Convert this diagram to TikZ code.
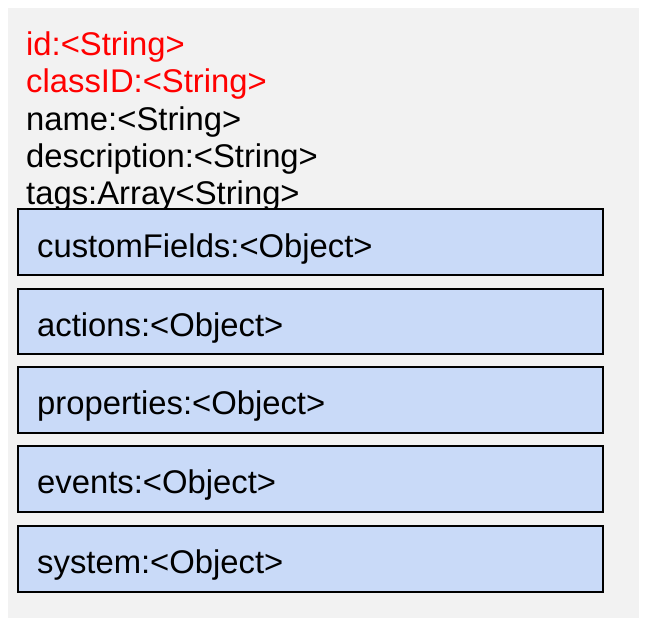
\documentclass[tikz,border=0pt]{standalone}
\usepackage{fontspec}
\setmainfont{Liberation Sans}
\definecolor{panelgray}{HTML}{F2F2F2}
\definecolor{fieldblue}{HTML}{C9DAF8}
\tikzset{
    attr/.style={anchor=base west, inner sep=0pt, font=\fontsize{32.8}{37}\selectfont},
    fieldbox/.style={draw=black, line width=1.5pt, fill=fieldblue}
}

\begin{document}
\begin{tikzpicture}[x=1pt, y=-1pt]
    \useasboundingbox (0,0) rectangle (647,624);

    % Gray panel behind everything
    \fill[panelgray] (8,8) rectangle (639,618);

    % Plain attributes
    \node[attr, red] (id) at (26,55) {id:<String>};
    \node[attr, red] (classid) at (26,92) {classID:<String>};
    \node[attr] (name) at (26,130) {name:<String>};
    \node[attr] (description) at (26,167) {description:<String>};
    \node[attr] (tags) at (26,204) {tags:Array<String>};

    % Object fields in boxes
    \draw[fieldbox] (18,209) rectangle (603,275);
    \node[attr] (customfields) at (37,257) {customFields:<Object>};

    \draw[fieldbox] (18,289) rectangle (603,354);
    \node[attr] (actions) at (37,336) {actions:<Object>};

    \draw[fieldbox] (18,367) rectangle (603,433);
    \node[attr] (properties) at (37,414) {properties:<Object>};

    \draw[fieldbox] (18,446) rectangle (603,512);
    \node[attr] (events) at (37,493) {events:<Object>};

    \draw[fieldbox] (18,526) rectangle (603,592);
    \node[attr] (system) at (37,573) {system:<Object>};

\end{tikzpicture}
\end{document}
